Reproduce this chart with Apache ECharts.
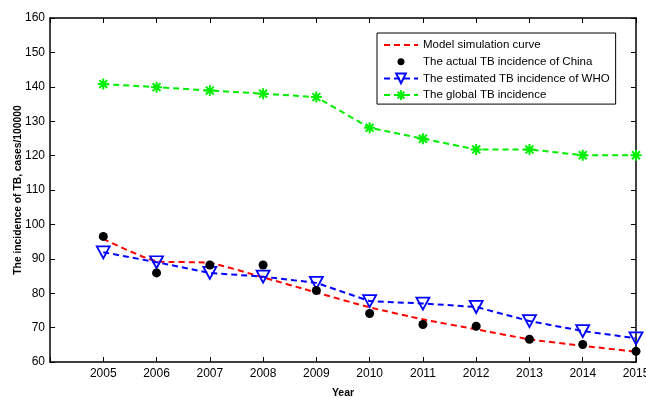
<!DOCTYPE html>
<html><head><meta charset="utf-8">
<script src="https://cdn.jsdelivr.net/npm/echarts@6/dist/echarts.min.js"></script>
<style>html,body{margin:0;padding:0;background:#fff}#c{width:646px;height:398px}</style>
</head><body><div id="c"></div>
<script>
var years = [2005, 2006, 2007, 2008, 2009, 2010, 2011, 2012, 2013, 2014, 2015];
var modelCurve = [95.8, 89.3, 88.8, 84.6, 80.2, 75.9, 72.4, 69.5, 66.6, 64.7, 63.0];
var actualChina = [96.5, 85.9, 88.2, 88.2, 80.8, 74.1, 70.9, 70.4, 66.6, 65.1, 63.1];
var whoEstimate = [91.9, 89.0, 85.9, 84.8, 83.0, 77.7, 77.0, 76.0, 71.9, 69.0, 66.9];
var globalIncidence = [140.8, 139.9, 138.9, 138.0, 137.0, 128.1, 124.9, 121.8, 121.8, 120.1, 120.1];
var yTicks = [60, 70, 80, 90, 100, 110, 120, 130, 140, 150, 160];

function pairs(v) { return years.map(function (y, i) { return [y, v[i]]; }); }

var font = 'Liberation Sans, Arial, Helvetica, sans-serif';
var chart = echarts.init(document.getElementById('c'));
var asterisk = 'path://M0,-5L0,5M-5,0L5,0M-3.6,-3.6L3.6,3.6M-3.6,3.6L3.6,-3.6';
var triDown = 'path://M-6,-5L6,-5L0,6Z';
var smallDot = 'path://M0,0L0.01,0M34,12L34.01,12M13.5,6a3.5,3.5 0 1,0 7,0a3.5,3.5 0 1,0 -7,0Z';

var axisCommon = {
  axisLine: { show: true, lineStyle: { color: '#000', width: 1.5 } },
  axisTick: { show: true, inside: true, length: 5, lineStyle: { color: '#000', width: 1 } },
  splitLine: { show: false }
};

chart.setOption({
  animation: false,
  backgroundColor: '#fff',
  grid: { left: 50, right: 10, top: 18, bottom: 36, containLabel: false, outerBoundsMode: 'none' },
  legend: {
    orient: 'vertical', left: 377, top: 33,
    backgroundColor: '#fff', borderColor: '#000', borderWidth: 1,
    padding: [6, 6, 3, 6], itemGap: 4.7, itemWidth: 34, itemHeight: 12,
    textStyle: { fontFamily: font, fontSize: 11.5, color: '#000' },
    data: [
      { name: 'Model simulation curve', itemStyle: { opacity: 0 } },
      { name: 'The actual TB incidence of China', icon: smallDot },
      'The estimated TB incidence of WHO',
      'The global TB incidence'
    ]
  },
  xAxis: [
    Object.assign({
      type: 'value', min: 2004, max: 2015, interval: 1, position: 'bottom',
      name: 'Year', nameLocation: 'middle', nameGap: 26,
      nameTextStyle: { fontFamily: font, fontSize: 10.5, fontWeight: 'bold', color: '#000' },
      axisLabel: { color: '#000', fontFamily: font, fontSize: 12, margin: 6,
        formatter: function (v) { return v === 2004 ? '' : String(v); } }
    }, axisCommon),
    Object.assign({
      type: 'value', min: 2004, max: 2015, interval: 1, position: 'top',
      axisLabel: { show: false }
    }, axisCommon)
  ],
  yAxis: [
    Object.assign({
      type: 'value', min: yTicks[0], max: yTicks[yTicks.length - 1], interval: 10, position: 'left',
      name: 'The incidence of TB, cases/100000', nameLocation: 'middle', nameGap: 27, nameMoveOverlap: false,
      nameTextStyle: { fontFamily: font, fontSize: 10.3, fontWeight: 'bold', color: '#000' },
      axisLabel: { color: '#000', fontFamily: font, fontSize: 12, margin: 5 }
    }, axisCommon),
    Object.assign({
      type: 'value', min: yTicks[0], max: yTicks[yTicks.length - 1], interval: 10, position: 'right',
      axisLabel: { show: false }
    }, axisCommon)
  ],
  series: [
    {
      name: 'Model simulation curve', type: 'line', data: pairs(modelCurve),
      symbol: 'none', smooth: 0.2,
      lineStyle: { color: '#ff0000', width: 2, type: [6, 4] },
      itemStyle: { color: '#ff0000' }, z: 3
    },
    {
      name: 'The actual TB incidence of China', type: 'scatter', data: pairs(actualChina),
      symbol: 'circle', symbolSize: 9, itemStyle: { color: '#000', opacity: 1 }, z: 5
    },
    {
      name: 'The estimated TB incidence of WHO', type: 'line', data: pairs(whoEstimate),
      symbol: triDown, symbolSize: [13, 12], showAllSymbol: true,
      lineStyle: { color: '#0000ff', width: 2, type: [6, 4] },
      itemStyle: { color: 'rgba(0,0,0,0)', borderColor: '#0000ff', borderWidth: 1.8 }, z: 4
    },
    {
      name: 'The global TB incidence', type: 'line', data: pairs(globalIncidence),
      symbol: asterisk, symbolSize: 11, showAllSymbol: true,
      lineStyle: { color: '#00ee00', width: 2, type: [6, 4] },
      itemStyle: { color: 'rgba(0,0,0,0)', borderColor: '#00ee00', borderWidth: 2 }, z: 4
    }
  ]
});
</script></body></html>
